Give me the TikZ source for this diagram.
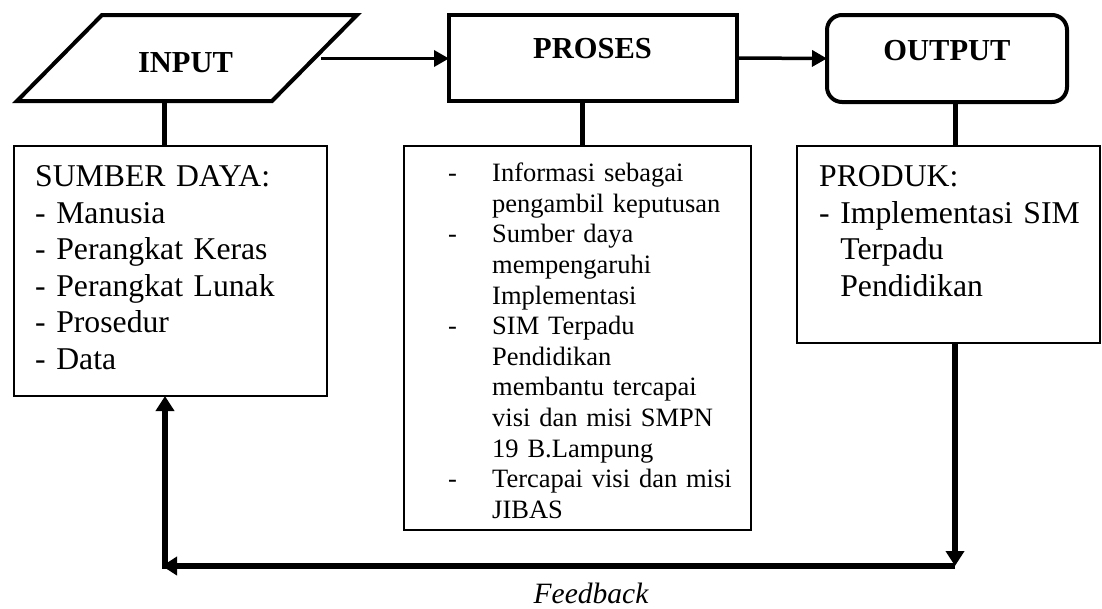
\documentclass[tikz,border=0pt]{standalone}
\usepackage{fontspec}
\setmainfont{Liberation Serif}
\usetikzlibrary{arrows.meta,calc}
\newcommand\pdash{\makebox[44pt][l]{-}}
\newcommand\pind{\makebox[44pt][l]{}}
\begin{document}
\begin{tikzpicture}[x=1pt,y=-1pt,
  thickshape/.style={draw=black, line width=4pt, line join=miter, inner sep=0pt, outer sep=0pt},
  headtext/.style={font=\fontsize{30.5}{36}\selectfont\bfseries, inner sep=0pt, anchor=base},
  thinbox/.style={draw=black, line width=1.3pt, inner sep=0pt, outer sep=0pt},
  boxtext/.style={inner sep=0pt, anchor=base west, align=left, text width=#1},
  vconn/.style={line width=5pt},
  hconn/.style={line width=3.5pt, -{Triangle[length=15pt,width=16pt]}},
  fbline/.style={line width=5.5pt, -{Triangle[length=15pt,width=18pt]}},
]
\useasboundingbox (0,0) rectangle (1102,608);

% INPUT parallelogram
\draw[thickshape] (102,15) -- (357,15) -- (272,101) -- (17,101) -- cycle;
\node[headtext] (input) at (185.5,72) {INPUT};
\coordinate (inE) at (321,58.5);
\coordinate (inS) at (164,101);

% PROSES and OUTPUT boxes
\node[thickshape, minimum width=288pt, minimum height=86pt] (proses) at (593,58) {};
\node[headtext] (prosestxt) at (592.5,58.3) {PROSES};
\node[thickshape, rounded corners=15pt, minimum width=240pt, minimum height=87pt] (output) at (947,58.5) {};
\node[headtext] (outputtxt) at (947,60) {OUTPUT};

% lower boxes
\node[thinbox, minimum width=313pt, minimum height=250pt] (sumber) at (170.5,271) {};
\node[thinbox, minimum width=347pt, minimum height=384pt] (pbox) at (577.5,338) {};
\node[thinbox, minimum width=303pt, minimum height=197pt] (produk) at (948.5,244.5) {};

% texts in lower boxes
\node[boxtext=290pt, font=\fontsize{31.7}{36.6}\selectfont] (sumbertxt) at (35,186.5) {%
SUMBER DAYA:\\
- Manusia\\
- Perangkat Keras\\
- Perangkat Lunak\\
- Prosedur\\
- Data};

\node[boxtext=330pt, font=\fontsize{26.5}{30.6}\selectfont] (pboxtxt) at (448,181.7) {%
\pdash Informasi sebagai\\
\pind pengambil keputusan\\
\pdash Sumber daya\\
\pind mempengaruhi\\
\pind Implementasi\\
\pdash SIM Terpadu\\
\pind Pendidikan\\
\pind membantu tercapai\\
\pind visi dan misi SMPN\\
\pind 19 B.Lampung\\
\pdash Tercapai visi dan misi\\
\pind JIBAS};

\node[boxtext=280pt, font=\fontsize{31.7}{36.6}\selectfont] (produktxt) at (819,186.5) {%
PRODUK:\\
- Implementasi SIM\\
\hphantom{- }Terpadu\\
\hphantom{- }Pendidikan};

% horizontal arrows
\draw[hconn] (inE) -- (inE -| proses.west);
\draw[hconn] (proses.east) -- (output.west);

% vertical connectors
\draw[vconn] (inS) -- (inS |- sumber.north);
\draw[vconn] ([xshift=-11pt]proses.south) -- ([xshift=-11pt]proses.south |- pbox.north);
\draw[vconn] ([xshift=8pt]output.south) -- ([xshift=8pt]output.south |- produk.north);

% feedback loop
\coordinate (cBR) at (955,566);
\coordinate (cBL) at (162,566);
\coordinate (cUp) at (165,568.5);
\draw[fbline] ([xshift=6.5pt]produk.south) -- (cBR);
\draw[fbline] (cBR) -- (cBL);
\draw[fbline] (cUp) -- (cUp |- sumber.south);

\node[inner sep=0pt, anchor=base, font=\fontsize{29.5}{34}\selectfont\itshape] (fb) at (591,603) {Feedback};
\end{tikzpicture}
\end{document}
